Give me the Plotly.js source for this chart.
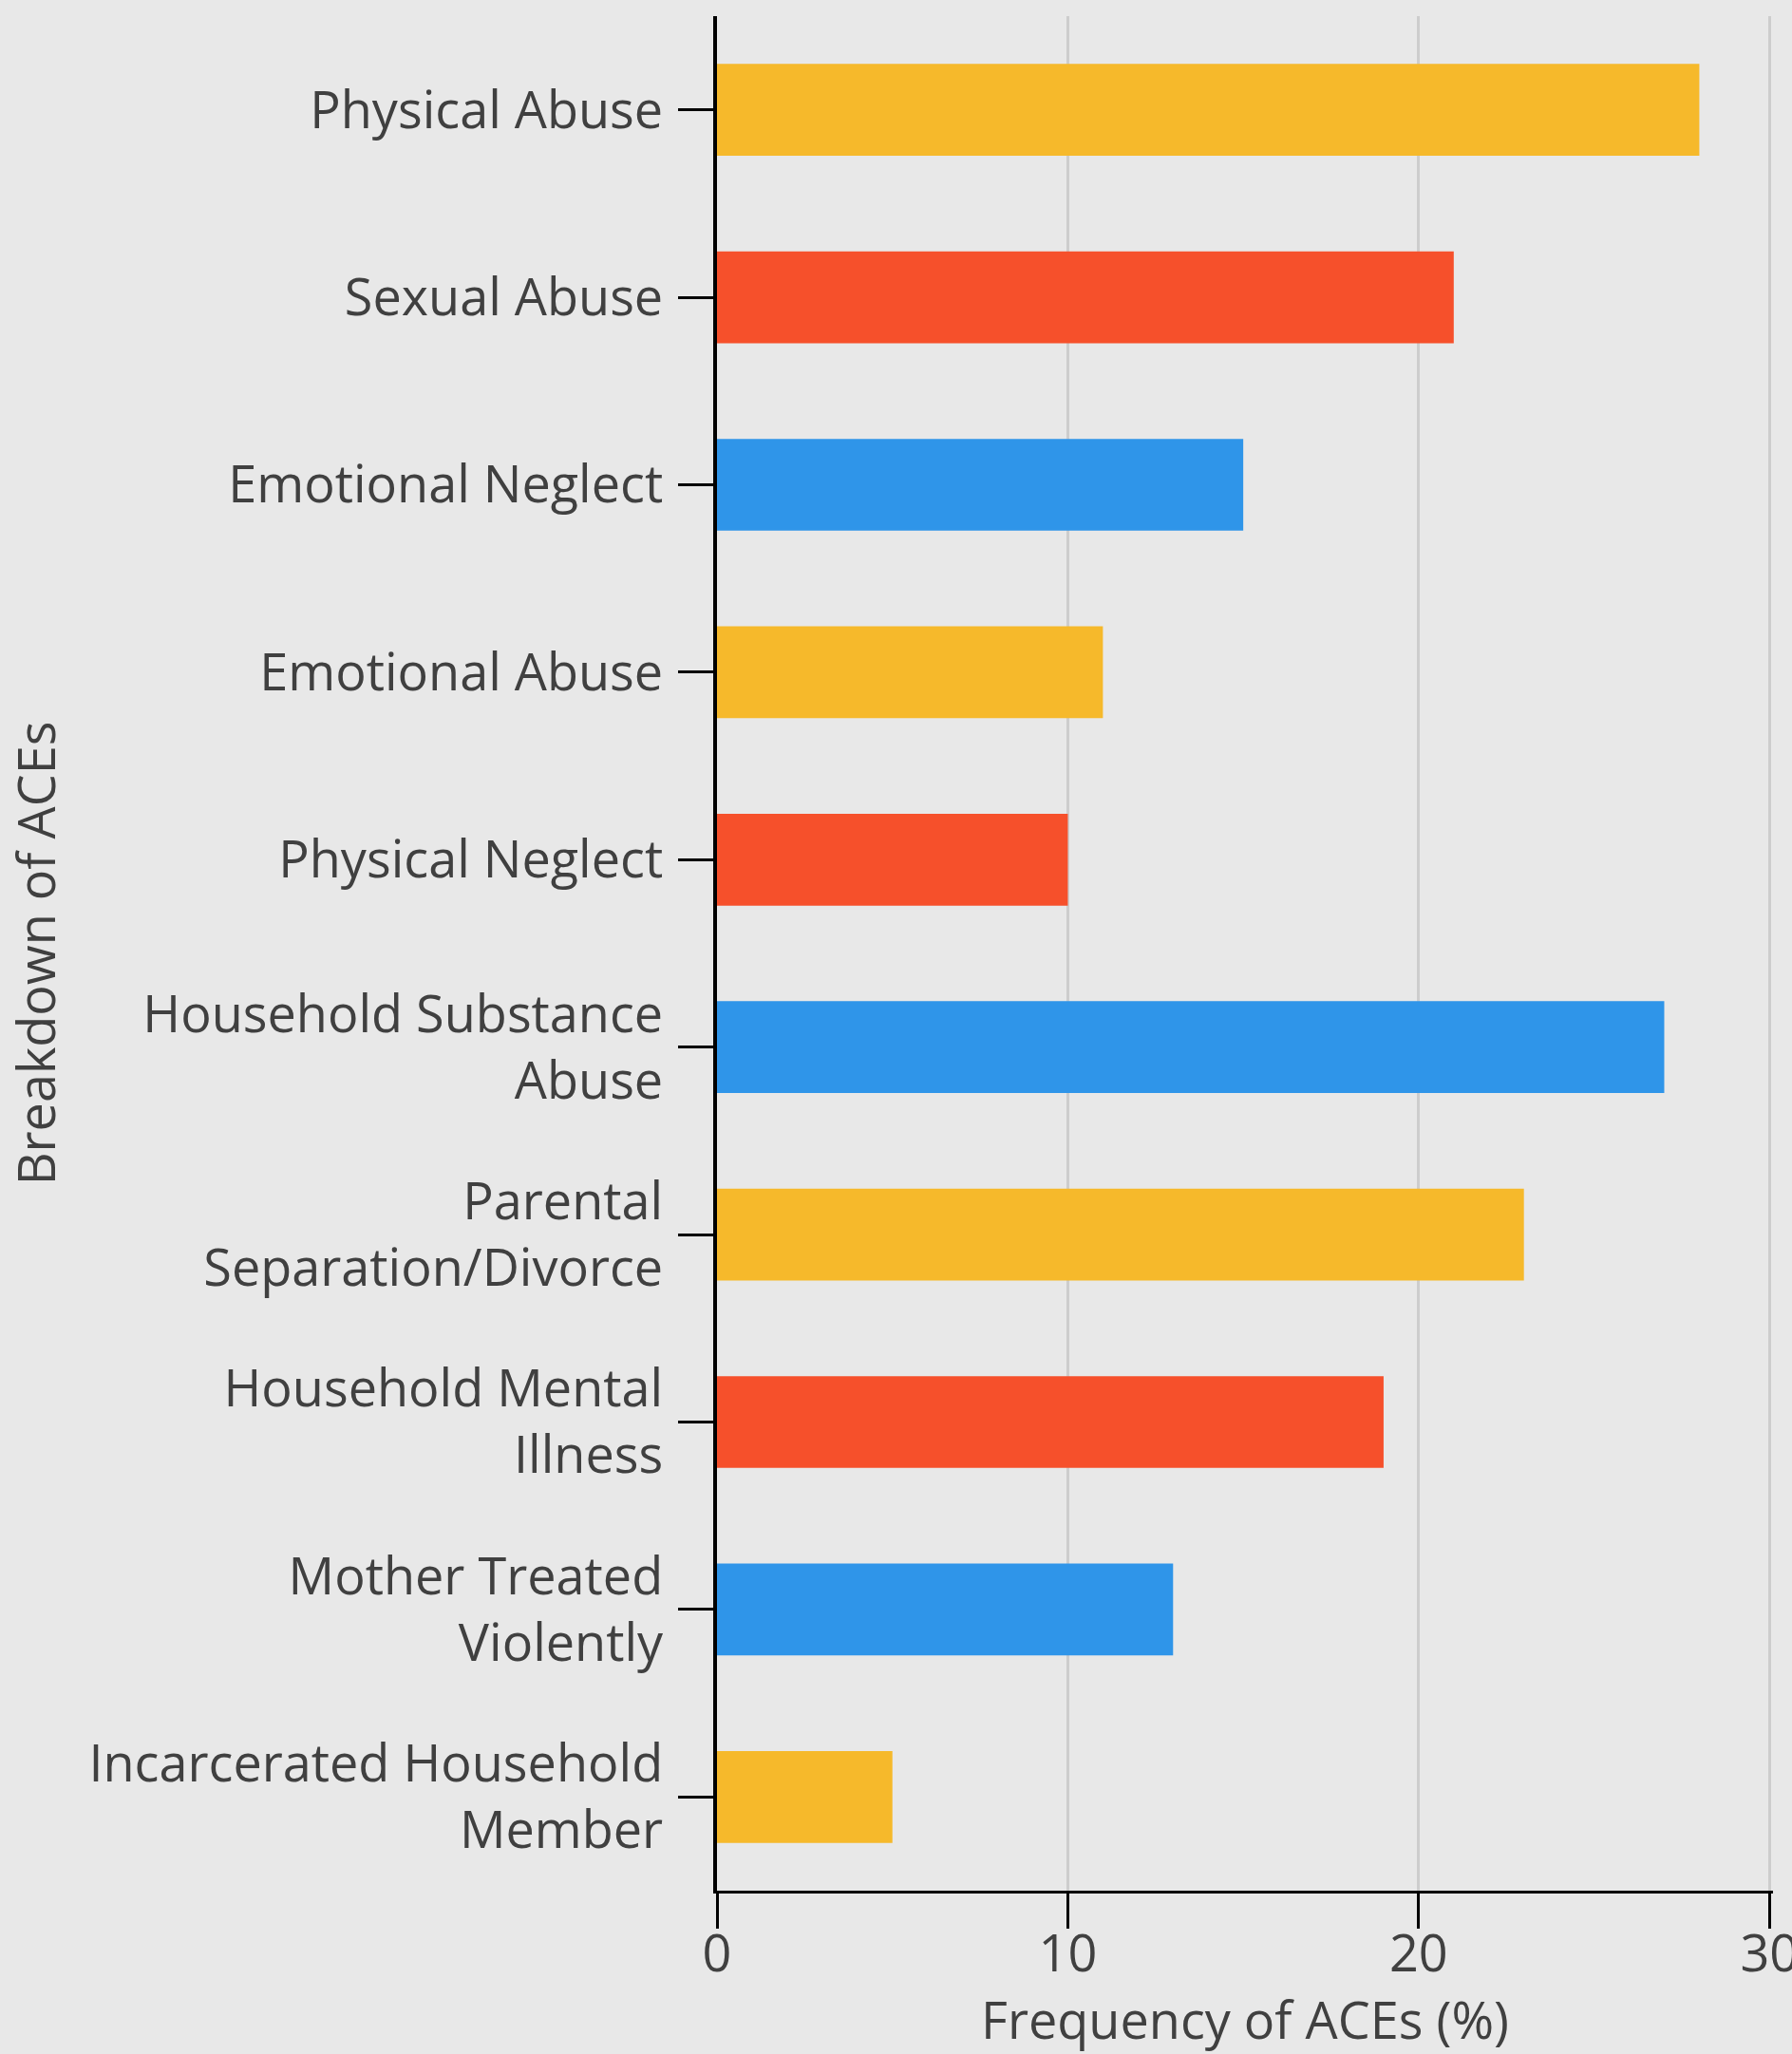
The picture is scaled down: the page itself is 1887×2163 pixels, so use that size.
<!DOCTYPE html>
<html>
<head>
<meta charset="utf-8">
<script src="https://cdn.plot.ly/plotly-3.0.1.min.js"></script>
<style>
  html, body { margin: 0; padding: 0; background: #e8e8e8; }
  #chart { width: 1887px; height: 2163px; }
</style>
</head>
<body>
<div id="chart"></div>
<script>
const categories = [
  "Physical Abuse",
  "Sexual Abuse",
  "Emotional Neglect",
  "Emotional Abuse",
  "Physical Neglect",
  "Household Substance<br>Abuse",
  "Parental<br>Separation/Divorce",
  "Household Mental<br>Illness",
  "Mother Treated<br>Violently",
  "Incarcerated Household<br>Member"
];
const frequency = [28, 21, 15, 11, 10, 27, 23, 19, 13, 5];
const xTickValues = [0, 10, 20, 30];
const xTickLabels = ["0", "10", "20", "30"];

const palette = ["#F6B92B", "#F6502B", "#2F95E9"];
const barColors = categories.map((_, i) => palette[i % palette.length]);

const textColor = "#404040";
const fontFamily = "'Open Sans', 'Noto Sans', sans-serif";

const trace = {
  type: "bar",
  orientation: "h",
  x: frequency,
  y: categories,
  marker: { color: barColors, line: { width: 0 } },
  hoverinfo: "x+y"
};

const layout = {
  width: 1887,
  height: 2163,
  paper_bgcolor: "#e8e8e8",
  plot_bgcolor: "#e8e8e8",
  font: { family: fontFamily, size: 54, color: textColor },
  margin: { l: 755, r: 20, t: 17, b: 172, pad: 0 },
  bargap: 0.51,
  showlegend: false,
  xaxis: {
    range: [0, 30.1],
    tickvals: xTickValues,
    ticktext: xTickLabels,
    showgrid: true,
    gridcolor: "#cdcdcd",
    gridwidth: 3,
    zeroline: false,
    showline: true,
    linecolor: "#000000",
    linewidth: 3,
    ticks: "outside",
    ticklen: 37,
    tickwidth: 3,
    tickcolor: "#000000",
    ticklabelstandoff: -20,
    ticklabeloverflow: "allow",
    tickfont: { family: fontFamily, size: 54, color: textColor },
    automargin: false,
    title: { text: "Frequency of ACEs (%)", font: { family: fontFamily, size: 54, color: textColor }, standoff: 52 }
  },
  yaxis: {
    type: "category",
    autorange: "reversed",
    showgrid: false,
    zeroline: false,
    showline: true,
    linecolor: "#000000",
    linewidth: 4,
    ticks: "outside",
    ticklen: 37,
    tickwidth: 3,
    tickcolor: "#000000",
    ticklabelstandoff: 5,
    tickfont: { family: fontFamily, size: 54, color: textColor },
    automargin: false,
    title: { text: "Breakdown of ACEs", font: { family: fontFamily, size: 54, color: textColor }, standoff: 22 }
  }
};

Plotly.newPlot("chart", [trace], layout, { displayModeBar: false, staticPlot: true });
</script>
</body>
</html>
